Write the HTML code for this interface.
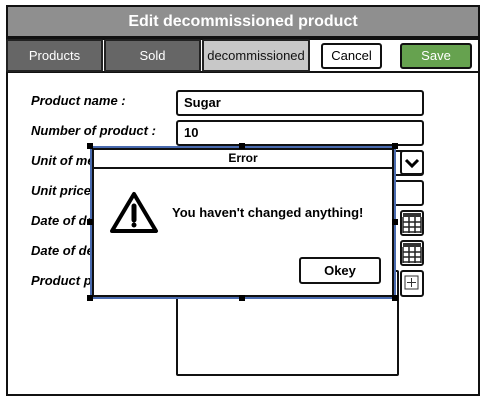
<!DOCTYPE html>
<html><head><style>
*{margin:0;padding:0;box-sizing:border-box}
body{width:486px;height:406px;background:#fff;position:relative;overflow:hidden;font-family:"Liberation Sans",sans-serif}
.a{position:absolute}
.lbl{position:absolute;left:31px;font-size:13px;font-weight:bold;font-style:italic;color:#000;white-space:nowrap;line-height:14px}
.box{position:absolute;border:2px solid #111;border-radius:3px;background:#fff}
.tab{position:absolute;top:39px;height:33px;border:2px solid #222;color:#fff;font-size:13px;text-align:center;line-height:29px;border-radius:2px}
.h{position:absolute;width:6px;height:6px;background:#000}
</style></head><body>
<div class="a" style="left:6px;top:5px;width:474px;height:391px;border:2px solid #111"></div>
<div class="a" style="left:6px;top:5px;width:474px;height:33px;background:#8f8f8f;border:2px solid #111;color:#fff;font-weight:bold;font-size:16px;text-align:center;line-height:29px">Edit decommissioned product</div>
<div class="a" style="left:6px;top:38px;width:474px;height:35px;border:2px solid #111"></div>
<div class="tab" style="left:6px;width:97px;background:#666">Products</div>
<div class="tab" style="left:104px;width:97px;background:#666">Sold</div>
<div class="tab" style="left:202px;width:108px;background:#c8c8c8;color:#111;border-color:#222">decommissioned</div>
<div class="box" style="left:321px;top:43px;width:61px;height:26px;font-size:13px;text-align:center;line-height:22px">Cancel</div>
<div class="box" style="left:400px;top:43px;width:72px;height:26px;background:#66a24f;color:#fff;font-size:13px;text-align:center;line-height:22px">Save</div>

<div class="lbl" style="top:94px">Product name :</div>
<div class="lbl" style="top:124px">Number of product :</div>
<div class="lbl" style="top:154px">Unit of measure :</div>
<div class="lbl" style="top:184px">Unit price :</div>
<div class="lbl" style="top:214px">Date of delivery :</div>
<div class="lbl" style="top:244px">Date of delivery :</div>
<div class="lbl" style="top:274px">Product picture :</div>

<div class="box" style="left:176px;top:90px;width:248px;height:26px;font-size:13px;font-weight:bold;padding-left:6px;line-height:22px">Sugar</div>
<div class="box" style="left:176px;top:120px;width:248px;height:26px;font-size:13px;font-weight:bold;padding-left:6px;line-height:22px">10</div>
<div class="box" style="left:176px;top:150px;width:248px;height:26px"></div>
<div class="box" style="left:176px;top:180px;width:248px;height:26px"></div>
<div class="box" style="left:176px;top:270px;width:223px;height:106px;border-radius:2px"></div>
<div class="box" style="left:400px;top:150px;width:24px;height:25px"><svg width="20" height="21"><path d="M4 8 L10 14 L16 8" stroke="#000" stroke-width="3" fill="none"/></svg></div>
<div class="box" style="left:400px;top:210px;width:24px;height:26px"><svg width="20" height="22"><rect x="1" y="1" width="18" height="4" fill="#333"/><path d="M1 5v16M7 5v16M13 5v16M19 5v16M1 10h18M1 15h18M1 20h18" stroke="#222" stroke-width="1.5"/></svg></div>
<div class="box" style="left:400px;top:240px;width:24px;height:26px"><svg width="20" height="22"><rect x="1" y="1" width="18" height="4" fill="#333"/><path d="M1 5v16M7 5v16M13 5v16M19 5v16M1 10h18M1 15h18M1 20h18" stroke="#222" stroke-width="1.5"/></svg></div>
<div class="box" style="left:400px;top:270px;width:24px;height:27px"><svg width="20" height="23"><rect x="3" y="4" width="13" height="13" fill="none" stroke="#333"/><path d="M9.5 6v9M5 10.5h9" stroke="#333"/></svg></div>

<div class="a" style="left:90px;top:146px;width:306px;height:153px;border:2px solid #4a6bb0"></div>
<div class="a" style="left:92px;top:148px;width:302px;height:149px;background:#fff;border:2px solid #111"></div>
<div class="a" style="left:92px;top:148px;width:302px;height:21px;border:2px solid #111;font-size:12px;font-weight:bold;text-align:center;line-height:17px">Error</div>
<svg class="a" style="left:108px;top:190px" width="52" height="46"><path d="M26 4 L48 41 L4 41 Z" fill="none" stroke="#000" stroke-width="4" stroke-linejoin="round"/><path d="M26 16 L26 30" stroke="#000" stroke-width="5" stroke-linecap="round"/><circle cx="26" cy="35" r="2.5"/></svg>
<div class="a" style="left:172px;top:205px;font-size:13px;font-weight:bold;white-space:nowrap">You haven't changed anything!</div>
<div class="box" style="left:299px;top:257px;width:82px;height:27px;font-size:13px;font-weight:bold;text-align:center;line-height:23px">Okey</div>
<div class="h" style="left:87px;top:143px"></div><div class="h" style="left:239px;top:143px"></div><div class="h" style="left:392px;top:143px"></div>
<div class="h" style="left:87px;top:219px"></div><div class="h" style="left:392px;top:219px"></div>
<div class="h" style="left:87px;top:295px"></div><div class="h" style="left:239px;top:295px"></div><div class="h" style="left:392px;top:295px"></div>
</body></html>
